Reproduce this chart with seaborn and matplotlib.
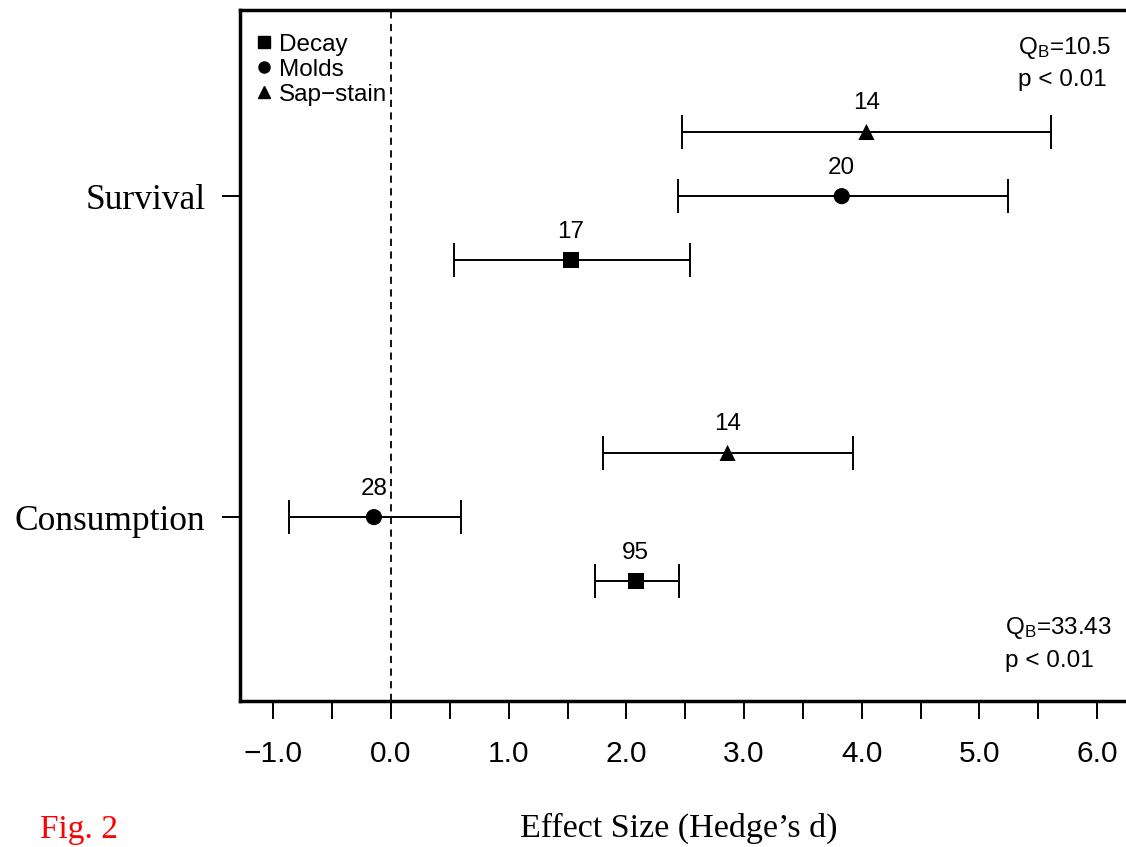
import matplotlib
matplotlib.use("Agg")
import matplotlib.pyplot as plt
import seaborn as sns
import pandas as pd
import numpy as np
from matplotlib.lines import Line2D

# ---- data ----
outcomes = ["Survival", "Survival", "Survival", "Consumption", "Consumption", "Consumption"]
groups = ["Sap-stain", "Molds", "Decay", "Sap-stain", "Molds", "Decay"]
means = [4.04, 3.83, 1.53, 2.86, -0.145, 2.08]
ci_low = [2.47, 2.44, 0.535, 1.80, -0.867, 1.73]
ci_high = [5.61, 5.24, 2.54, 3.93, 0.595, 2.45]
n_studies = [14, 20, 17, 14, 28, 95]
outcome_pos = {"Survival": 2.0, "Consumption": 1.0}
group_offset = {"Sap-stain": 0.2, "Molds": 0.0, "Decay": -0.2}
xticks = [-1.0, -0.5, 0.0, 0.5, 1.0, 1.5, 2.0, 2.5, 3.0, 3.5, 4.0, 4.5, 5.0, 5.5, 6.0]
xticklabels_major = [-1.0, 0.0, 1.0, 2.0, 3.0, 4.0, 5.0, 6.0]
qb_texts = [("Q$_{\\mathrm{B}}$=10.5", "p < 0.01"), ("Q$_{\\mathrm{B}}$=33.43", "p < 0.01")]

df = pd.DataFrame({"outcome": outcomes, "group": groups, "mean": means,
                   "lo": ci_low, "hi": ci_high, "n": n_studies})
df["y"] = [outcome_pos[o] + group_offset[g] for o, g in zip(df["outcome"], df["group"])]

sns.set_style("white")
plt.rcParams["font.family"] = ["Liberation Sans", "DejaVu Sans"]
plt.rcParams["mathtext.fontset"] = "custom"
plt.rcParams["mathtext.rm"] = "Liberation Sans"
plt.rcParams["mathtext.it"] = "Liberation Sans:italic"
plt.rcParams["text.color"] = "black"
plt.rcParams["xtick.color"] = "black"
plt.rcParams["ytick.color"] = "black"
plt.rcParams["xtick.labelcolor"] = "black"
plt.rcParams["ytick.labelcolor"] = "black"

fig = plt.figure(figsize=(11.26, 8.47), dpi=100)
ax_left, ax_right = 240 / 1126, 1135 / 1126
ax_top, ax_bot = 1 - 10 / 847, 1 - 701 / 847
ax = fig.add_axes([ax_left, ax_bot, ax_right - ax_left, ax_top - ax_bot])

# dashed zero line
ax.axvline(0, color="black", linestyle=(0, (4, 3)), linewidth=1.3, zorder=1)

# error bars
ax.errorbar(df["mean"], df["y"], xerr=[df["mean"] - df["lo"], df["hi"] - df["mean"]],
            fmt="none", ecolor="black", elinewidth=1.4, capsize=12, capthick=1.4, zorder=2)

markers = {"Decay": "s", "Molds": "o", "Sap-stain": "^"}
sns.scatterplot(data=df, x="mean", y="y", style="group", markers=markers,
                color="black", s=135, edgecolor="black", linewidth=0, legend=False,
                ax=ax, zorder=3)

for _, r in df.iterrows():
    ax.annotate(str(r["n"]), (r["mean"], r["y"]), xytext=(0, 20.5), textcoords="offset points",
                ha="center", va="center", fontsize=17.5, color="black")

# QB texts
ax.text(5.33, 2.461, qb_texts[0][0], fontsize=17.5, ha="left", va="center")
ax.text(5.33, 2.361, qb_texts[0][1], fontsize=17.5, ha="left", va="center")
ax.text(5.22, 0.654, qb_texts[1][0], fontsize=17.5, ha="left", va="center")
ax.text(5.22, 0.551, qb_texts[1][1], fontsize=17.5, ha="left", va="center")

ax.set_xlim(-1.283, 6.322)
ax.set_ylim(0.427, 2.58)

ax.set_xticks(xticks)
ax.set_xticklabels([f"{t:.1f}".replace("-", "\u2212") if t in xticklabels_major else "" for t in xticks],
                   fontsize=21.5)
ax.set_yticks([outcome_pos["Survival"], outcome_pos["Consumption"]])
ax.set_yticklabels(["Survival", "Consumption"], fontsize=25.5, family=["Liberation Serif"])
ax.tick_params(axis="x", direction="out", length=13, width=1.4, pad=15, bottom=True)
ax.tick_params(axis="y", direction="out", length=13, width=1.4, pad=12, left=True)

for sp in ax.spines.values():
    sp.set_linewidth(2.5)
    sp.set_color("black")
ax.grid(False)
ax.set_xlabel("")
ax.set_ylabel("")

# legend
handles = [Line2D([], [], linestyle="none", marker="s", color="black", markersize=8),
           Line2D([], [], linestyle="none", marker="o", color="black", markersize=8),
           Line2D([], [], linestyle="none", marker="^", color="black", markersize=9)]
ax.legend(handles, ["Decay", "Molds", "Sap\u2212stain"], loc="upper left",
          bbox_to_anchor=(0.0, 0.99), frameon=False, fontsize=17.5, handlelength=0.6,
          handletextpad=0.3, labelspacing=0.12, borderaxespad=0.5, borderpad=0.2)

fig.text(679 / 1126, 1 - 828 / 847, "Effect Size (Hedge\u2019s d)", ha="center", va="center",
         fontsize=24.5, family=["Liberation Serif"])
fig.text(40 / 1126, 2 / 847, "Fig. 2", ha="left", va="bottom", fontsize=24,
         color="red", family=["Liberation Serif"])

fig.savefig("out.png", dpi=100)
